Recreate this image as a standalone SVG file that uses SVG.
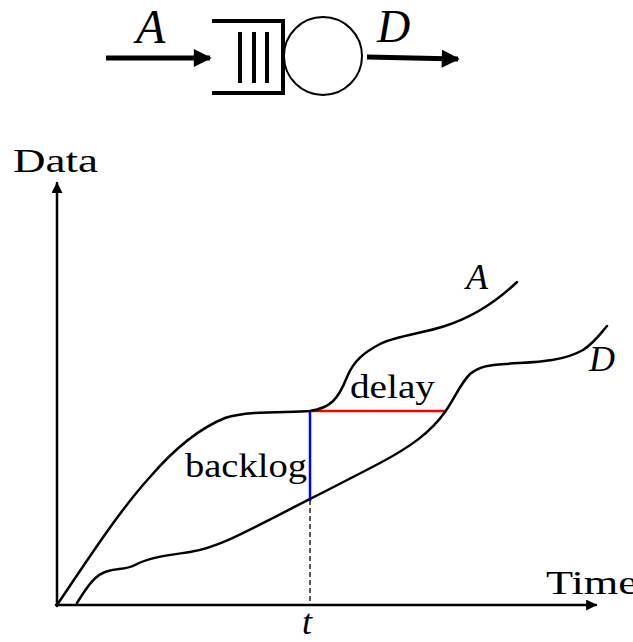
<svg xmlns="http://www.w3.org/2000/svg" width="633" height="642" viewBox="0 0 633 642">
<style>
.ln{fill:none;stroke:#000;stroke-width:2.5;stroke-linecap:round;stroke-linejoin:round}
.thick{fill:none;stroke:#000;stroke-width:5}
.txt{font-family:"Liberation Serif","DejaVu Serif",serif;fill:#000}
.it{font-style:italic}
</style>
<defs>
<marker id="ah" viewBox="0 0 10 10" refX="9" refY="5" markerWidth="5" markerHeight="4.4" markerUnits="strokeWidth" orient="auto">
<path d="M0,0 L10,5 L0,10 Z" fill="#000"/>
</marker>
<marker id="ahb" viewBox="0 0 10 10" refX="9" refY="5" markerWidth="4.2" markerHeight="3.6" markerUnits="strokeWidth" orient="auto">
<path d="M0,0 L10,5 L0,10 Z" fill="#000"/>
</marker>
</defs>

<g id="queue">
<path d="M212,21 H283 V93 H212" fill="none" stroke="#000" stroke-width="4"/>
<line x1="240" y1="32" x2="240" y2="83" stroke="#000" stroke-width="4"/>
<line x1="254" y1="32" x2="254" y2="83" stroke="#000" stroke-width="4"/>
<line x1="267" y1="32" x2="267" y2="83" stroke="#000" stroke-width="4"/>
</g>
<g id="server">
<circle cx="323" cy="56" r="39" fill="#fff" stroke="#000" stroke-width="2"/>
</g>
<g id="labels-top">
<text class="txt it" x="136" y="43" font-size="48">A</text>
<text class="txt it" x="377" y="42" font-size="46">D</text>
</g>

<g id="connectors">
<line class="thick" x1="106" y1="58" x2="210" y2="58" marker-end="url(#ahb)"/>
<line class="thick" x1="367" y1="57" x2="458" y2="59" marker-end="url(#ahb)"/>
<line class="ln" x1="57" y1="606" x2="57" y2="183" marker-end="url(#ah)"/>
<line class="ln" x1="56" y1="605" x2="596" y2="605" marker-end="url(#ah)"/>
<line x1="310" y1="500" x2="310" y2="605" stroke="#000" stroke-width="1.3" stroke-dasharray="5,3"/>
<line x1="310" y1="411" x2="310" y2="501" stroke="#0000ff" stroke-width="2.5"/>
<line x1="310" y1="411" x2="445" y2="411" stroke="#ff0000" stroke-width="2.5"/>
</g>

<g id="curveA">
<path class="ln" d="M57,605 C90,556 120,510 150,477 C175,448 200,428 225,418 C250,410 290,413 310,411 C330,408 338,400 347,377 C354,360 365,352 380,344 C395,336 425,333 445,326 C470,318 495,303 517,282"/>
</g>
<g id="curveD">
<path class="ln" d="M77,603 C88,585 96,574 108,571 C118,568 125,570 135,565 C150,557 170,555 190,552 C215,548 240,535 273,518 C300,504 340,484 380,463 C410,447 430,433 445,412 C455,398 460,384 470,374 C480,366 490,365 505,364 C530,362 560,363 583,350 C595,342 600,334 607,326"/>
</g>

<g id="text">
<text class="txt" x="13" y="172" font-size="34" textLength="85" lengthAdjust="spacingAndGlyphs">Data</text>
<text class="txt" x="546" y="594" font-size="34" textLength="92" lengthAdjust="spacingAndGlyphs">Time</text>
<text class="txt it" x="302" y="634" font-size="36">t</text>
<text class="txt" x="185" y="477" font-size="34" textLength="122" lengthAdjust="spacingAndGlyphs">backlog</text>
<text class="txt" x="350" y="398" font-size="34" textLength="85" lengthAdjust="spacingAndGlyphs">delay</text>
<text class="txt it" x="466" y="289" font-size="36">A</text>
<text class="txt it" x="589" y="371" font-size="36">D</text>
</g>
</svg>
